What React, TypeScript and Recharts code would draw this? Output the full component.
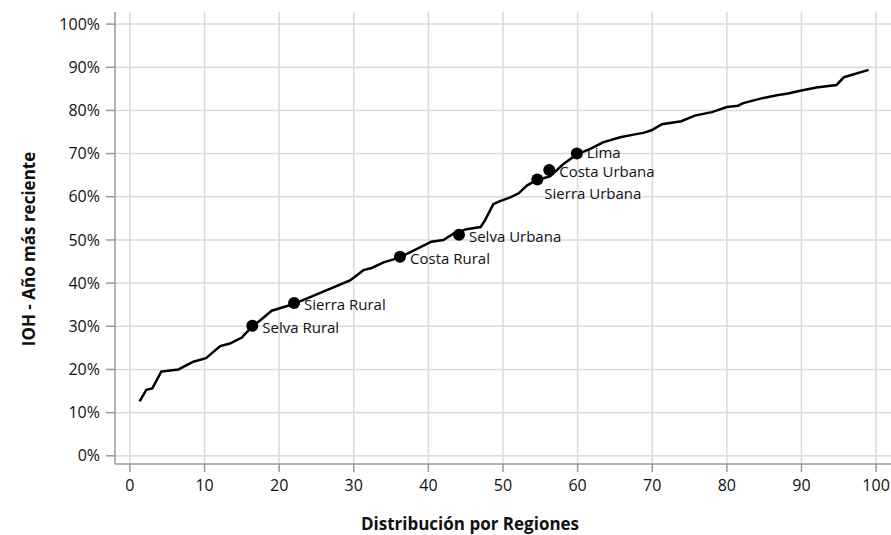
import React from "react"
import {
  ComposedChart,
  Line,
  Scatter,
  XAxis,
  YAxis,
  CartesianGrid,
  Label,
} from "recharts"

// curva de distribución (x = % acumulado de población, y = IOH %)
const curveX = [
  1.3, 2.2, 3.0, 4.2, 6.5, 8.5, 10.2, 12.1, 13.4, 15.0, 16.4, 17.4, 19.0, 20.3,
  22.0, 29.5, 31.3, 32.4, 34.0, 36.1, 38.4, 40.4, 42.0, 43.3, 45.1, 47.0, 47.6,
  48.7, 49.6, 50.9, 52.1, 53.2, 54.5, 56.3, 58.1, 59.9, 61.7, 63.4, 65.7, 67.5,
  68.8, 69.9, 71.3, 73.9, 75.7, 78.0, 80.0, 81.5, 82.2, 84.9, 86.7, 88.2, 90.0,
  92.0, 94.7, 95.7, 99.0,
]
const curveY = [
  12.6, 15.3, 15.6, 19.5, 20.0, 21.8, 22.6, 25.4, 26.0, 27.4, 30.0, 31.3, 33.6,
  34.3, 35.2, 40.6, 43.0, 43.5, 44.8, 45.9, 47.9, 49.6, 50.0, 51.4, 52.5, 53.0,
  54.6, 58.3, 59.0, 59.8, 60.8, 62.6, 63.9, 64.7, 67.6, 69.8, 71.1, 72.6, 73.8,
  74.4, 74.8, 75.4, 76.8, 77.5, 78.8, 79.6, 80.8, 81.1, 81.7, 82.9, 83.5, 83.9,
  84.6, 85.3, 85.9, 87.7, 89.4,
]

const regionNames = [
  "Selva Rural",
  "Sierra Rural",
  "Costa Rural",
  "Selva Urbana",
  "Sierra Urbana",
  "Costa Urbana",
  "Lima",
]
const regionX = [16.4, 22.0, 36.2, 44.1, 54.6, 56.2, 59.9]
const regionY = [30.1, 35.4, 46.1, 51.2, 64.0, 66.2, 70.0]

const xTicks = [0, 10, 20, 30, 40, 50, 60, 70, 80, 90, 100]
const yTicks = [0, 10, 20, 30, 40, 50, 60, 70, 80, 90, 100]

const curve = curveX.map((x, i) => ({ x, y: curveY[i] }))
const regions = regionNames.map((name, i) => ({ name, x: regionX[i], y: regionY[i] }))

const font = "'Open Sans', 'DejaVu Sans', sans-serif"
const axisColor = "#9a9a9a"

// las tres etiquetas urbanas están muy juntas: se separan un poco
const labelNudge: Record<string, { dx: number; dy: number }> = {
  "Sierra Urbana": { dx: -3, dy: 12 },
  Lima: { dx: 0, dy: -3 },
}

const RegionDot = (props: any) => {
  const { cx, cy, payload } = props
  const nudge = labelNudge[payload.name] || { dx: 0, dy: 0 }
  return (
    <g>
      <circle cx={cx} cy={cy} r={6} fill="#000" />
      <text
        x={cx + 10 + nudge.dx}
        y={cy + 7 + nudge.dy}
        fontSize={15}
        fontFamily={font}
        fill="#111"
      >
        {payload.name}
      </text>
    </g>
  )
}

export default function App() {
  return (
    <div style={{ position: "absolute", left: 0, top: 0, background: "#fff" }}>
      <ComposedChart
        width={891}
        height={535}
        margin={{ top: 12, right: 0, bottom: 31, left: 35 }}
      >
        <CartesianGrid
          stroke="#dadada"
          strokeWidth={1.5}
          horizontalValues={yTicks}
          verticalValues={xTicks}
        />
        <XAxis
          type="number"
          dataKey="x"
          domain={[-2, 102]}
          ticks={xTicks}
          allowDataOverflow
          height={40}
          tickSize={8}
          tickMargin={8}
          stroke={axisColor}
          strokeWidth={1.5}
          tick={{ fill: "#111", fontSize: 16, fontFamily: font }}
        >
          <Label
            content={() => (
              <text
                x={470}
                y={530}
                textAnchor="middle"
                fontSize={17}
                fontWeight="bold"
                fontFamily={font}
                fill="#111"
              >
                Distribución por Regiones
              </text>
            )}
          />
        </XAxis>
        <YAxis
          type="number"
          dataKey="y"
          domain={[-1.9, 102.8]}
          ticks={yTicks}
          allowDataOverflow
          width={80}
          tickSize={9}
          tickMargin={6}
          stroke={axisColor}
          strokeWidth={1.5}
          tickFormatter={(v) => `${v}%`}
          tick={{ fill: "#111", fontSize: 16, fontFamily: font }}
        >
          <Label
            content={() => (
              <text
                x={35}
                y={249}
                transform="rotate(-90, 35, 249)"
                textAnchor="middle"
                fontSize={17}
                fontWeight="bold"
                fontFamily={font}
                fill="#111"
              >
                IOH - Año más reciente
              </text>
            )}
          />
        </YAxis>
        <Line
          data={curve}
          dataKey="y"
          type="linear"
          stroke="#000"
          strokeWidth={2.5}
          dot={false}
          activeDot={false}
          isAnimationActive={false}
        />
        <Scatter
          data={regions}
          dataKey="y"
          shape={RegionDot}
          isAnimationActive={false}
        />
      </ComposedChart>
    </div>
  )
}
